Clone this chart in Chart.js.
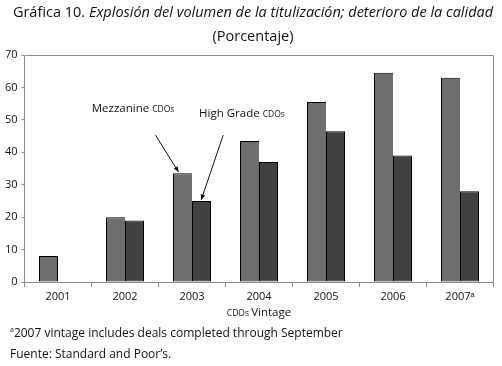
<!DOCTYPE html>
<html lang="es">
<head>
<meta charset="utf-8"/>
<title>Gráfica 10</title>
<script src="https://cdn.jsdelivr.net/npm/chart.js"></script>
<style>
  body { margin: 0; background: #fff; font-family: 'Open Sans', sans-serif; color: #111; }
  #wrap { position: relative; width: 502px; height: 366px; overflow: hidden; }
  #chart { position: absolute; left: 0; top: 0; }
  .title { position: absolute; left: 0; width: 506px; text-align: center; font-size: 14.5px; white-space: nowrap; }
  .note { position: absolute; left: 10px; font-size: 12px; white-space: nowrap; }
  sup { font-size: 7px; vertical-align: 5px; }
</style>
</head>
<body>
<div id="wrap">
  <canvas id="chart" width="502" height="366"></canvas>
  <div class="title" style="top:2px">Gráfica 10. <i>Explosión del volumen de la titulización; deterioro de la calidad</i></div>
  <div class="title" style="top:26px">(Porcentaje)</div>
  <div class="note" style="top:324px"><sup>a</sup>2007 vintage includes deals completed through September</div>
  <div class="note" style="top:345px">Fuente: Standard and Poor’s.</div>
</div>
<script>
// data
const years = ['2001', '2002', '2003', '2004', '2005', '2006', '2007ᵃ'];
const mezzanine = [8, 20, 33.5, 43.5, 55.5, 64.5, 63];
const highGrade = [null, 19, 25, 37, 46.5, 39, 28];
const yTicks = [0, 10, 20, 30, 40, 50, 60, 70];

// callouts, in data units (category index, value)
const callouts = [
  { big: 'Mezzanine', small: 'CDOs', at: [1.12, 53.3], from: [1.455, 45.3], to: [1.80, 33.9] },
  { big: 'High Grade', small: 'CDOs', at: [2.746, 51.8], from: [2.466, 45.3], to: [2.137, 25.3] }
];

const FONT = "'Open Sans', sans-serif";

const extras = {
  id: 'extras',
  afterDraw(chart) {
    const { ctx, chartArea: a, scales: { x, y } } = chart;
    ctx.save();
    // frame top + right
    ctx.strokeStyle = '#8c8c8c';
    ctx.lineWidth = 1;
    ctx.beginPath();
    ctx.moveTo(Math.round(a.left) + 0.5, Math.round(a.top) + 0.5);
    ctx.lineTo(Math.round(a.right) - 0.5, Math.round(a.top) + 0.5);
    ctx.lineTo(Math.round(a.right) - 0.5, Math.round(a.bottom) + 0.5);
    ctx.stroke();

    // callouts
    ctx.fillStyle = '#111';
    ctx.textBaseline = 'middle';
    callouts.forEach(c => {
      ctx.font = '11.5px ' + FONT;
      const w1 = ctx.measureText(c.big + ' ').width;
      ctx.font = '8.5px ' + FONT;
      const w2 = ctx.measureText(c.small).width;
      const cx = x.getPixelForValue(c.at[0]), cy = y.getPixelForValue(c.at[1]);
      let sx = cx - (w1 + w2) / 2;
      ctx.font = '11.5px ' + FONT;
      ctx.fillText(c.big + ' ', sx, cy);
      ctx.font = '8.5px ' + FONT;
      ctx.fillText(c.small, sx + w1, cy + 0.5);

      const x0 = x.getPixelForValue(c.from[0]), y0 = y.getPixelForValue(c.from[1]);
      const x1 = x.getPixelForValue(c.to[0]), y1 = y.getPixelForValue(c.to[1]);
      ctx.strokeStyle = '#111';
      ctx.beginPath();
      ctx.moveTo(x0, y0);
      ctx.lineTo(x1, y1);
      ctx.stroke();
      const ang = Math.atan2(y1 - y0, x1 - x0);
      ctx.beginPath();
      ctx.moveTo(x1, y1);
      ctx.lineTo(x1 - 6 * Math.cos(ang - 0.4), y1 - 6 * Math.sin(ang - 0.4));
      ctx.lineTo(x1 - 6 * Math.cos(ang + 0.4), y1 - 6 * Math.sin(ang + 0.4));
      ctx.closePath();
      ctx.fillStyle = '#111';
      ctx.fill();
    });

    // x axis title
    ctx.font = '8.5px ' + FONT;
    const t1 = ctx.measureText('CDOs ').width;
    ctx.font = '11.5px ' + FONT;
    const t2 = ctx.measureText('Vintage').width;
    let tx = (a.left + a.right) / 2 - (t1 + t2) / 2;
    ctx.font = '8.5px ' + FONT;
    ctx.fillText('CDOs ', tx, 313.5);
    ctx.font = '11.5px ' + FONT;
    ctx.fillText('Vintage', tx + t1, 313);
    ctx.restore();
  }
};

new Chart(document.getElementById('chart'), {
  type: 'bar',
  data: {
    labels: years,
    datasets: [
      { label: 'Mezzanine CDOs', data: mezzanine, backgroundColor: '#6e6e6e', borderColor: '#000', borderWidth: 1,
        // the high grade bar's left edge is the shared divider
        borderSkipped: c => highGrade[c.dataIndex] == null ? false : 'right',
        categoryPercentage: 38 / 67, barPercentage: 1 },
      { label: 'High Grade CDOs', data: highGrade, backgroundColor: '#414141', borderColor: '#000', borderWidth: 1,
        borderSkipped: false, categoryPercentage: 38 / 67, barPercentage: 1 }
    ]
  },
  options: {
    responsive: false,
    animation: false,
    layout: { padding: { top: 55, right: 8.5, left: 0, bottom: 0 } },
    plugins: { legend: { display: false }, tooltip: { enabled: false }, title: { display: false } },
    scales: {
      x: {
        grid: { display: true, offset: true, drawOnChartArea: false, tickLength: 5, color: '#8c8c8c' },
        border: { color: '#8c8c8c' },
        ticks: { color: '#111', font: { family: FONT, size: 11 }, padding: 3, maxRotation: 0 },
        afterFit(s) { s.height = 84; }
      },
      y: {
        min: 0, max: 70,
        afterBuildTicks(s) { s.ticks = yTicks.map(v => ({ value: v })); },
        grid: { display: true, drawOnChartArea: false, tickLength: 3, color: '#8c8c8c' },
        border: { color: '#8c8c8c' },
        ticks: { color: '#111', font: { family: FONT, size: 11 }, padding: 4 },
        afterFit(s) { s.width = 24.5; }
      }
    }
  },
  plugins: [extras]
});
</script>
</body>
</html>
